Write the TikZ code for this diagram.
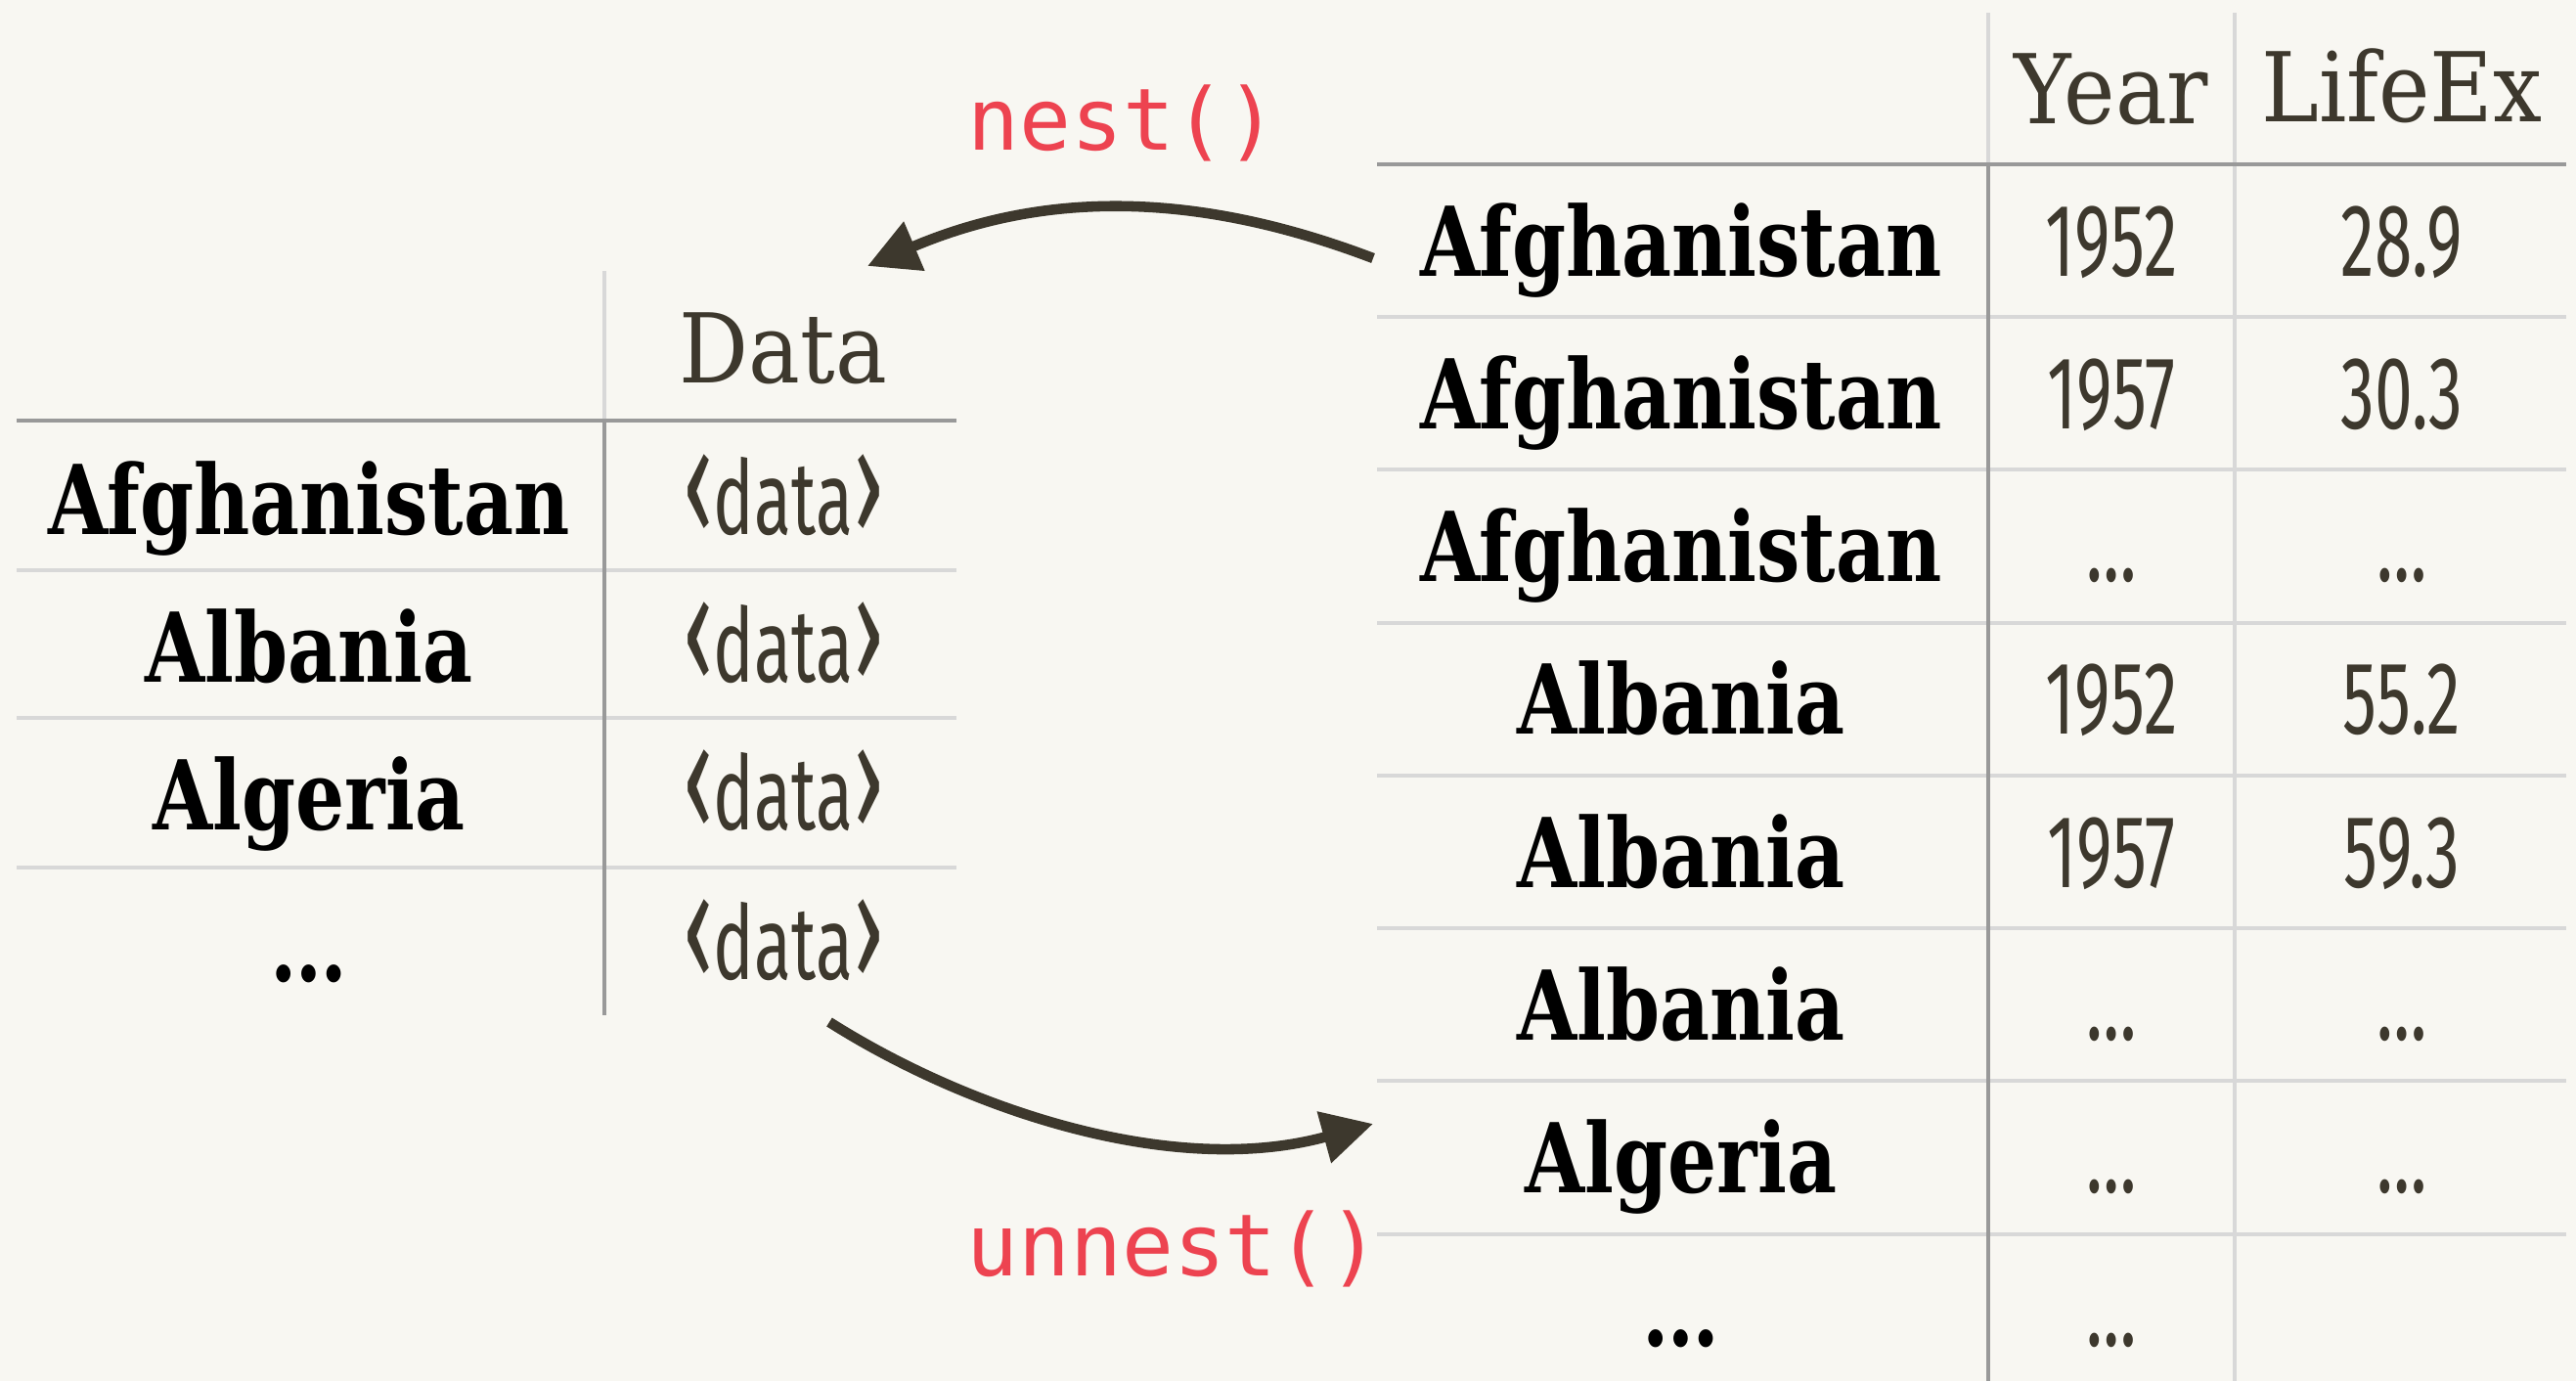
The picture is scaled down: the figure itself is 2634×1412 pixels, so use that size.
\documentclass[tikz,border=0pt]{standalone}
\usepackage{fontspec}
\usetikzlibrary{arrows.meta}
\newfontfamily\slabbold[FakeStretch=0.80]{DejaVu Serif Bold}
\newfontfamily\slabreg[FakeStretch=0.90]{DejaVu Serif}
\newfontfamily\numfont[FakeStretch=0.66]{Fira Sans}
\newfontfamily\codefont{DejaVu Sans Mono}
\definecolor{paper}{RGB}{248,247,242}
\definecolor{ink}{RGB}{61,56,45}
\definecolor{codered}{RGB}{237,67,80}
\definecolor{ruledark}{RGB}{153,153,153}
\definecolor{rulelight}{RGB}{216,216,216}
\newcommand{\opench}{\scalebox{1.35}[1.45]{‹}}
\newcommand{\closech}{\scalebox{1.35}[1.45]{›}}
\tikzset{
  country/.style={font=\slabbold\fontsize{28}{28}\selectfont, text=black, anchor=base, inner sep=0pt},
  colhead/.style={font=\slabreg\fontsize{28}{28}\selectfont, text=ink, anchor=base, inner sep=0pt},
  numcell/.style={font=\numfont\fontsize{30}{30}\selectfont, text=ink, anchor=base, inner sep=0pt},
  codelabel/.style={font=\codefont\fontsize{25}{25}\selectfont, text=codered, anchor=base, inner sep=0pt},
  darkrule/.style={draw=ruledark, line width=1.3pt},
  lightrule/.style={draw=rulelight, line width=1.3pt},
  flow/.style={draw=ink, line width=3pt, -{Triangle[length=5.2mm, width=5.2mm]}}
}
\begin{document}
\begin{tikzpicture}[x=0.01cm, y=-0.01cm]
\fill[paper] (0,0) rectangle (2634,1412);
\useasboundingbox (0,0) rectangle (2634,1412);

% ---------- nested table (left) ----------
\foreach \y in {583,734,887} \draw[lightrule] (17,\y) -- (978,\y);
\draw[lightrule] (618,277) -- (618,430);
\draw[darkrule] (618,430) -- (618,1038);
\draw[darkrule] (17,430) -- (978,430);

\node[colhead] (ldata) at (801,391) {Data};
\node[country] (lc1) at (316,546) {Afghanistan};
\node[country] (lc2) at (316,697) {Albania};
\node[country] (lc3) at (316,848) {Algeria};
\node[country] (lc4) at (316,1003) {…};
\foreach \y [count=\i] in {546,697,848,1001}
  \node[numcell] (ld\i) at (801,\y) {\opench data\closech};

% ---------- long table (right) ----------
\foreach \y in {324,480,637,793,949,1105,1262} \draw[lightrule] (1408,\y) -- (2624,\y);
\draw[lightrule] (2033,13) -- (2033,168);
\draw[darkrule] (2033,168) -- (2033,1412);
\draw[lightrule] (2285,13) -- (2285,1412);
\draw[darkrule] (1408,168) -- (2624,168);

\node[colhead] (hyear) at (2159,126) {Year};
\node[colhead] (hlife) at (2456,124) {LifeEx};

\foreach \name/\yr/\le [count=\i] in {
  Afghanistan/1952/28.9,
  Afghanistan/1957/30.3,
  Afghanistan/…/…,
  Albania/1952/55.2,
  Albania/1957/59.3,
  Albania/…/…,
  Algeria/…/…,
  …/…/{}}{
  \pgfmathsetmacro{\by}{282+156.3*(\i-1)}
  \node[country] (rc\i) at (1719,\by) {\name};
  \node[numcell] (ry\i) at (2159,\by) {\yr};
  \node[numcell] (rl\i) at (2456,\by) {\le};
}

% ---------- nest / unnest connectors ----------
\coordinate (nestfrom) at (1404,264);
\coordinate (nestto) at (887,272);
\coordinate (unnestfrom) at (848,1045);
\coordinate (unnestto) at (1404,1149);

\draw[flow] (nestfrom) .. controls (1223,195) and (1068,195) .. (nestto);
\draw[flow] (unnestfrom) .. controls (990,1135) and (1200,1205) .. (unnestto);

\node[codelabel] (nestlbl) at (1148,153) {nest()};
\node[codelabel] (unnestlbl) at (1200,1304) {unnest()};
\end{tikzpicture}
\end{document}
